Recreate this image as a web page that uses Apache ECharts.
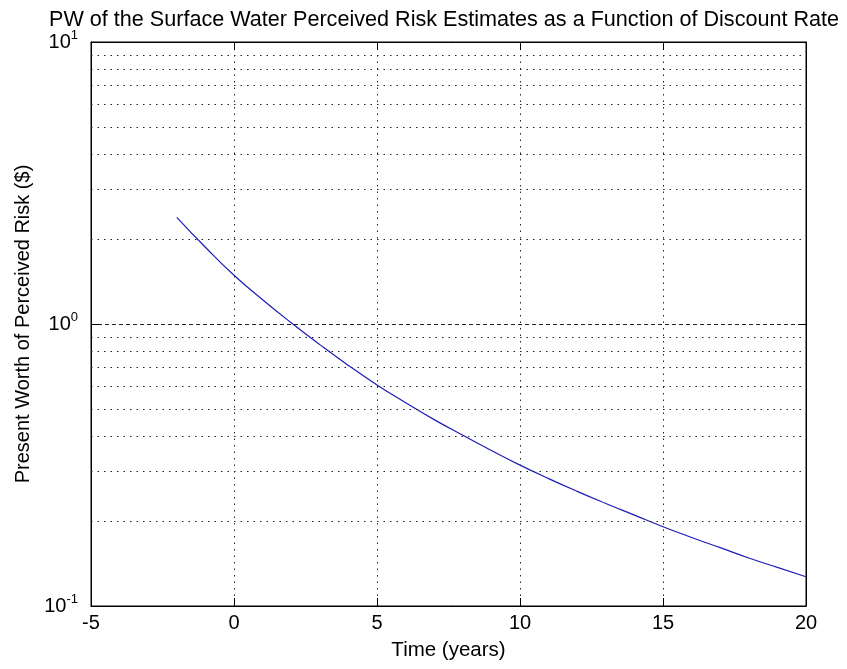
<!DOCTYPE html>
<html>
<head>
<meta charset="utf-8">
<script src="https://cdn.jsdelivr.net/npm/echarts@6/dist/echarts.min.js"></script>
<style>
  html, body { margin: 0; padding: 0; background: #fff; }
  #chart { width: 847px; height: 669px; }
</style>
</head>
<body>
<div id="chart"></div>
<script>
// time (years) and present worth
var years = [-2, -1, 0, 1, 2, 3, 4, 5, 6, 7, 8, 9, 10, 11, 12, 13, 14, 15, 16, 17, 18, 19, 20];
var pw = [2.39, 1.871, 1.489, 1.219, 1.010, 0.845, 0.713, 0.608, 0.526, 0.458, 0.403, 0.356, 0.316,
          0.283, 0.255, 0.231, 0.210, 0.191, 0.175, 0.161, 0.148, 0.137, 0.127];
var minorGrid = [0.2, 0.3, 0.4, 0.5, 0.6, 0.7, 0.8, 0.9, 2, 3, 4, 5, 6, 7, 8, 9];
var xTicks = { min: -5, max: 20, step: 5 };

var font = '"Liberation Sans", Arial, sans-serif';

var chart = echarts.init(document.getElementById('chart'));

var lineData = [];
for (var i = 0; i < years.length; i++) {
    lineData.push([years[i], pw[i]]);
}

var dotted = { color: '#222', width: 1, type: [1.5, 5] };

var option = {
    backgroundColor: '#fff',
    animation: false,
    title: {
        text: 'PW of the Surface Water Perceived Risk Estimates as a Function of Discount Rate',
        left: 44, top: 4,
        textStyle: { fontFamily: font, fontSize: 21.6, fontWeight: 'normal', color: '#000' }
    },
    grid: {
        left: 91, right: 41, top: 42, bottom: 63,
        show: true, borderColor: '#000', borderWidth: 1
    },
    xAxis: [{
        type: 'value',
        min: xTicks.min, max: xTicks.max, interval: xTicks.step,
        name: 'Time (years)', nameLocation: 'middle', nameGap: 34,
        nameTextStyle: { fontFamily: font, fontSize: 20.5, color: '#000' },
        axisLine: { onZero: false, lineStyle: { color: '#000' } },
        axisTick: { inside: true, length: 8, lineStyle: { color: '#000' } },
        axisLabel: { fontFamily: font, fontSize: 20, color: '#000', margin: 7 },
        splitLine: { show: true, lineStyle: dotted }
    }, {
        type: 'value', position: 'top',
        min: xTicks.min, max: xTicks.max, interval: xTicks.step,
        axisLine: { onZero: false, lineStyle: { color: '#000' } },
        axisTick: { inside: true, length: 8, lineStyle: { color: '#000' } },
        axisLabel: { show: false },
        splitLine: { show: false }
    }],
    yAxis: [{
        type: 'log', logBase: 10, min: 0.1, max: 10,
        name: 'Present Worth of Perceived Risk ($)', nameLocation: 'middle', nameGap: 58,
        nameTextStyle: { fontFamily: font, fontSize: 20, color: '#000' },
        axisLine: { onZero: false, lineStyle: { color: '#000' } },
        axisTick: { inside: true, length: 8, lineStyle: { color: '#000' } },
        axisLabel: {
            margin: 13,
            formatter: function (v) {
                var e = Math.round(Math.log10(v));
                return '{b|10}{s|' + e + '}';
            },
            rich: {
                b: { fontFamily: font, fontSize: 20, color: '#000' },
                s: { fontFamily: font, fontSize: 13, color: '#000', padding: [0, 0, 14, 0] }
            }
        },
        splitLine: { show: true, lineStyle: { color: '#222', width: 1, type: [4, 3] } }
    }, {
        type: 'log', logBase: 10, min: 0.1, max: 10, position: 'right',
        axisLine: { onZero: false, lineStyle: { color: '#000' } },
        axisTick: { inside: true, length: 8, lineStyle: { color: '#000' } },
        axisLabel: { show: false },
        splitLine: { show: false }
    }],
    series: [{
        type: 'line',
        data: lineData,
        showSymbol: false,
        smooth: true,
        lineStyle: { color: '#1c1cb8', width: 1.2 },
        markLine: {
            silent: true,
            symbol: 'none',
            label: { show: false },
            lineStyle: dotted,
            data: minorGrid.map(function (v) { return { yAxis: v }; })
        }
    }]
};

chart.setOption(option);
</script>
</body>
</html>
